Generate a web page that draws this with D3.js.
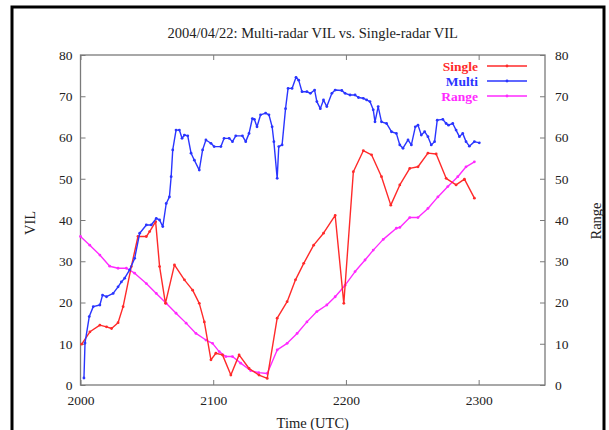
<!DOCTYPE html>
<html>
<head>
<meta charset="utf-8">
<script src="https://cdn.jsdelivr.net/npm/d3@7"></script>
<style>
  body { margin: 0; background: #fff; }
  svg { display: block; }
  text { font-family: "Liberation Serif", "DejaVu Serif", serif; }
</style>
</head>
<body>
<div id="chart"></div>
<script>
// chart data (time in UTC hhmm, VIL / range values)
const multiTime = [2002.6, 2003.4, 2006.6, 2009.6, 2014.6, 2016.6, 2019.6, 2024.6, 2028.3, 2030.8, 2033.3, 2037, 2040.8, 2044.6, 2049.6, 2053.3, 2057.1, 2059.6, 2062, 2064.6, 2067, 2068.3, 2069.5, 2072, 2074.5, 2076.5, 2078.3, 2080.8, 2083.3, 2085.8, 2089.5, 2092, 2094.5, 2098.3, 2100.7, 2105.8, 2108.2, 2112, 2114.5, 2117, 2122, 2124.5, 2127, 2129.5, 2131, 2133, 2135.7, 2139.5, 2142, 2144.4, 2145.7, 2148.2, 2149.4, 2151.9, 2154.5, 2156.4, 2159.4, 2162.4, 2164.4, 2166.9, 2170.6, 2173.2, 2176.4, 2178.1, 2180.7, 2183.1, 2185.6, 2189.4, 2191.9, 2196.9, 2199.4, 2203.1, 2206.9, 2209.4, 2213.1, 2215.6, 2218.1, 2220.6, 2221.9, 2224.3, 2226.8, 2230.6, 2234.3, 2238, 2240.6, 2243, 2246.8, 2249.3, 2252.3, 2254.3, 2256.8, 2259.3, 2261.8, 2264.3, 2266.8, 2268.8, 2273, 2275.5, 2277.3, 2280.5, 2283, 2285.5, 2288, 2290.5, 2293, 2296.8, 2300.5]
const multiVil = [1.7, 10.2, 16.6, 19, 19.4, 21.8, 21.4, 22.2, 23.8, 25, 25.9, 27.9, 30.7, 36.8, 38.8, 38.8, 40.4, 40, 38.4, 44, 45.6, 50.5, 57, 61.8, 61.8, 59.8, 60.6, 60.4, 56.2, 54.5, 52.1, 57, 59.4, 58.6, 57.8, 57.8, 59.8, 59.8, 59, 60.4, 60.4, 59, 61, 64.6, 64.4, 62.6, 65.5, 65.9, 65.5, 62.6, 59, 50.1, 57.8, 58.2, 67, 71.9, 71.9, 74.6, 73.9, 71.1, 71.1, 70.7, 71.5, 68.7, 67, 69.1, 67.5, 70.7, 71.5, 71.4, 70.7, 70.3, 70.3, 69.7, 69.5, 69.1, 68.7, 66.7, 63.8, 67.5, 63.8, 63.4, 61.4, 61, 58.2, 57.4, 59.4, 58.2, 62.6, 63, 60.6, 61.4, 60.2, 58.2, 59, 64.2, 64.4, 63.4, 63, 63.4, 61.8, 60.2, 61, 59, 57.9, 59, 58.7]

const singleTime = [2000.9, 2007.1, 2014.6, 2019.6, 2023.4, 2028.3, 2032.1, 2038.3, 2043.3, 2049.6, 2052.1, 2056.6, 2059.6, 2064, 2070.8, 2078.3, 2084.5, 2089.5, 2093.3, 2098.3, 2102, 2107, 2113.3, 2119.5, 2127, 2134.5, 2140.7, 2148.2, 2155.7, 2162, 2168.2, 2175.7, 2183.1, 2191.9, 2198.4, 2205.6, 2213.1, 2219.3, 2226.8, 2233.8, 2240.6, 2248.1, 2254.3, 2261.8, 2268, 2275.5, 2283, 2289.3, 2296.8]
const singleVil = [9.9, 12.9, 14.5, 14.1, 13.7, 15.1, 19, 28.7, 36, 36, 37.2, 39.6, 28.7, 19.8, 29.1, 25.5, 23, 19.8, 15.3, 6.1, 7.7, 7.3, 2.4, 7.3, 4, 2.4, 1.6, 16.2, 20.2, 25.5, 29.5, 33.9, 36.8, 41.1, 19.8, 51.7, 56.8, 55.8, 50.5, 43.6, 48.5, 52.5, 52.9, 56.2, 56, 50.1, 48.5, 49.9, 45.3]

const rangeTime = [2000, 2007, 2014.6, 2022, 2028.3, 2034.6, 2040.8, 2049.6, 2057.1, 2064.6, 2072, 2079.6, 2087, 2094.5, 2099.5, 2104.5, 2109.5, 2114.5, 2120.7, 2128.2, 2134.3, 2140.7, 2148.2, 2155.7, 2163.2, 2170.6, 2178.1, 2185.6, 2191.9, 2199.4, 2206.9, 2214.4, 2220.6, 2228.1, 2238, 2240.6, 2248.1, 2254.3, 2261.8, 2269.3, 2276.8, 2284.3, 2290.5, 2296.8]
const rangeKm = [36, 33.9, 31.5, 28.8, 28.3, 28.3, 27.1, 24.6, 22.2, 19.8, 17.4, 15, 12.5, 10.9, 10.1, 8.1, 6.9, 6.9, 5.3, 3.5, 3, 2.8, 8.5, 10.1, 12.5, 15.3, 17.8, 19.4, 21.4, 24.2, 27.5, 30.3, 32.7, 35.3, 38, 38.2, 40.6, 40.6, 42.8, 45.6, 48.1, 50.5, 52.9, 54.1]

const seriesNames = ["Single", "Multi", "Range"]
const seriesColors = ["#ff2a2a", "#2a35ff", "#ff2aff"]
const xTicks = [2000, 2100, 2200, 2300]
const yTicks = [0, 10, 20, 30, 40, 50, 60, 70, 80]

const W = 609, H = 430
const plotLeft = 80.5, plotRight = 545, plotTop = 55, plotBottom = 385

const svg = d3.select("#chart").append("svg")
    .attr("width", W)
    .attr("height", H)

// page border (bottom is cut off in the original)
svg.append("path")
    .attr("d", `M12,${H + 5}V7H604V${H + 5}`)
    .attr("fill", "none")
    .attr("stroke", "#000")
    .attr("stroke-width", 3)

const x = d3.scaleLinear().domain([2000, 2350]).range([plotLeft, plotRight])
const y = d3.scaleLinear().domain([0, 80]).range([plotBottom, plotTop])

const frameColor = "#7a7a7a"

function styleAxis(g) {
    g.select(".domain").remove()
    g.selectAll(".tick line").attr("stroke", frameColor).attr("stroke-width", 1)
    g.selectAll(".tick text").attr("fill", "#222").style("font-size", "13.5px")
        .style("font-family", "'Liberation Serif', serif")
}

svg.append("g")
    .attr("transform", `translate(${plotLeft},0)`)
    .call(d3.axisLeft(y).tickValues(yTicks).tickSizeInner(-5).tickSizeOuter(0).tickPadding(8))
    .call(styleAxis)

svg.append("g")
    .attr("transform", `translate(${plotRight},0)`)
    .call(d3.axisRight(y).tickValues(yTicks).tickSizeInner(-5).tickSizeOuter(0).tickPadding(10))
    .call(styleAxis)

svg.append("g")
    .attr("transform", `translate(0,${plotBottom})`)
    .call(d3.axisBottom(x).tickValues(xTicks).tickFormat(d3.format("d")).tickSizeInner(-5).tickSizeOuter(0).tickPadding(10))
    .call(styleAxis)

svg.append("g")
    .attr("transform", `translate(0,${plotTop})`)
    .call(d3.axisTop(x).tickValues(xTicks).tickFormat("").tickSizeInner(-5).tickSizeOuter(0))
    .call(styleAxis)

// plot frame
svg.append("rect")
    .attr("x", plotLeft).attr("y", plotTop)
    .attr("width", plotRight - plotLeft).attr("height", plotBottom - plotTop)
    .attr("fill", "none")
    .attr("stroke", frameColor)
    .attr("stroke-width", 1.3)

// titles
svg.append("text")
    .attr("x", (plotLeft + plotRight) / 2).attr("y", 38)
    .attr("text-anchor", "middle")
    .style("font-size", "14.5px")
    .attr("fill", "#222")
    .text("2004/04/22: Multi-radar VIL vs. Single-radar VIL")

svg.append("text")
    .attr("x", (plotLeft + plotRight) / 2).attr("y", 428)
    .attr("text-anchor", "middle")
    .style("font-size", "14.5px")
    .attr("fill", "#222")
    .text("Time (UTC)")

svg.append("text")
    .attr("transform", `translate(35,223) rotate(-90)`)
    .attr("text-anchor", "middle")
    .style("font-size", "14.5px")
    .attr("fill", "#222")
    .text("VIL")

svg.append("text")
    .attr("transform", `translate(601,221) rotate(-90)`)
    .attr("text-anchor", "middle")
    .style("font-size", "14.5px")
    .attr("fill", "#222")
    .text("Range")

// series
const series = [
    { name: seriesNames[0], color: seriesColors[0], pts: singleTime.map((t, i) => [t, singleVil[i]]) },
    { name: seriesNames[1], color: seriesColors[1], pts: multiTime.map((t, i) => [t, multiVil[i]]) },
    { name: seriesNames[2], color: seriesColors[2], pts: rangeTime.map((t, i) => [t, rangeKm[i]]) }
]

const lineGen = d3.line()
    .x(d => x(d[0]))
    .y(d => y(d[1]))

const plot = svg.append("g")

// draw range first, then single, then multi on top
;[2, 0, 1].forEach(k => {
    const s = series[k]
    plot.append("path")
        .datum(s.pts)
        .attr("d", lineGen)
        .attr("fill", "none")
        .attr("stroke", s.color)
        .attr("stroke-width", 1.4)
        .attr("stroke-linejoin", "round")
    plot.selectAll(null)
        .data(s.pts)
        .join("circle")
        .attr("cx", d => x(d[0]))
        .attr("cy", d => y(d[1]))
        .attr("r", 1.4)
        .attr("fill", s.color)
})

// legend
const legend = svg.append("g")
series.forEach((s, i) => {
    const ly = 66 + i * 15
    legend.append("text")
        .attr("x", 478).attr("y", ly + 5)
        .attr("text-anchor", "end")
        .style("font-size", "13.5px")
        .style("font-weight", "bold")
        .attr("fill", s.color)
        .text(s.name)
    legend.append("line")
        .attr("x1", 487).attr("x2", 527)
        .attr("y1", ly).attr("y2", ly)
        .attr("stroke", s.color)
        .attr("stroke-width", 1.4)
    legend.append("circle")
        .attr("cx", 507).attr("cy", ly).attr("r", 1.4)
        .attr("fill", s.color)
})
</script>
</body>
</html>
